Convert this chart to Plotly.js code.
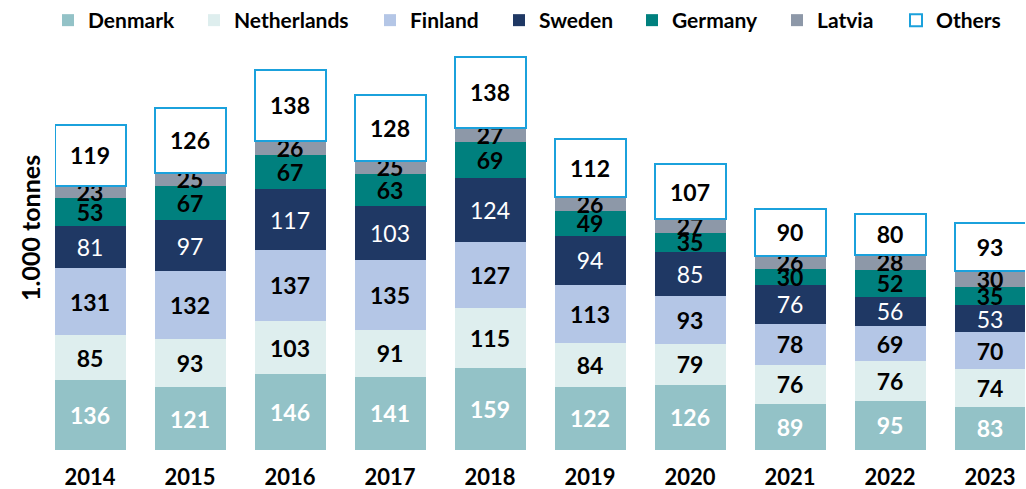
<!DOCTYPE html>
<html><head><meta charset="utf-8">
<script src="https://cdn.plot.ly/plotly-3.0.1.min.js"></script>
<style>html,body{margin:0;padding:0;background:#fff}#chart{width:1026px;height:489px}</style>
</head><body><div id="chart"></div>
<script>
const years = ['2014','2015','2016','2017','2018','2019','2020','2021','2022','2023'];
const denmark     = [136,121,146,141,159,122,126,89,95,83];
const netherlands = [85,93,103,91,115,84,79,76,76,74];
const finland     = [131,132,137,135,127,113,93,78,69,70];
const sweden      = [81,97,117,103,124,94,85,76,56,53];
const germany     = [53,67,67,63,69,49,35,30,52,35];
const latvia      = [23,25,26,25,27,26,27,26,28,30];
const others      = [119,126,138,128,138,112,107,90,80,93];

const FONT = 'Lato, "Open Sans", sans-serif';
const series = [
  {name:'Denmark', y:denmark, color:'#93c2c7', tc:'#ffffff', w:'bold', lx:66},
  {name:'Netherlands', y:netherlands, color:'#deeeee', tc:'#000000', w:'bold', lx:212},
  {name:'Finland', y:finland, color:'#b4c6e6', tc:'#000000', w:'bold', lx:388},
  {name:'Sweden', y:sweden, color:'#1f3864', tc:'#ffffff', w:'normal', lx:517},
  {name:'Germany', y:germany, color:'#00807e', tc:'#000000', w:'bold', lx:650},
  {name:'Latvia', y:latvia, color:'#8d98a8', tc:'#000000', w:'bold', lx:795},
  {name:'Others', y:others, color:'#ffffff', tc:'#000000', w:'bold', lx:914, line:'#1ba1dc'}
];
const L = 55, R = 1, W = 1026, T = 50, B = 39, H = 489;
const pw = W - L - R, ph = H - T - B;
const traces = [];
const layout = {
  width:1026, height:489,
  margin:{l:L, r:R, t:T, b:B},
  barmode:'stack', bargap:0.29,
  paper_bgcolor:'#fff', plot_bgcolor:'#fff',
  font:{family:FONT, color:'#000'},
  uniformtext:{mode:'show', minsize:23},
  xaxis:{type:'category', range:[-0.35,9.35], showgrid:false, zeroline:false, showline:false,
         ticks:'', ticklabelstandoff:12, tickfont:{family:FONT, size:22, weight:'bold', color:'#000'}},
  yaxis:{range:[0,772], showgrid:false, zeroline:false, showline:false, showticklabels:false, ticks:''},
  annotations:[{text:'1.000 tonnes', textangle:-90, xref:'paper', yref:'paper',
    x:(30-L)/pw, y:(H-B-228)/ph, xanchor:'center', yanchor:'middle', showarrow:false,
    font:{family:FONT, size:25, weight:'bold', color:'#000'}}],
  showlegend:true
};
series.forEach((s,i)=>{
  const lg = i===0 ? 'legend' : 'legend'+(i+1);
  traces.push({
    type:'bar', x:years, y:s.y, name:s.name, legend:lg,
    marker:{color:s.color, line:{color:s.line||'rgba(0,0,0,0)', width:s.line?2:0}},
    text:s.y.map(String), textposition:'inside', insidetextanchor:'middle', textangle:0,
    constraintext:'none',
    textfont:{family:FONT, size:23, color:s.tc, weight:s.w},
    hoverinfo:'skip'
  });
  layout[lg] = {orientation:'h', x:(s.lx-18-L)/pw, xanchor:'left', y:1.0, yanchor:'top',
    yref:'container', bgcolor:'rgba(0,0,0,0)', borderwidth:0,
    font:{family:FONT, size:21, weight:'bold', color:'#000'}, itemwidth:30};
});
Plotly.newPlot('chart', traces, layout, {displayModeBar:false, staticPlot:true});
</script></body></html>
